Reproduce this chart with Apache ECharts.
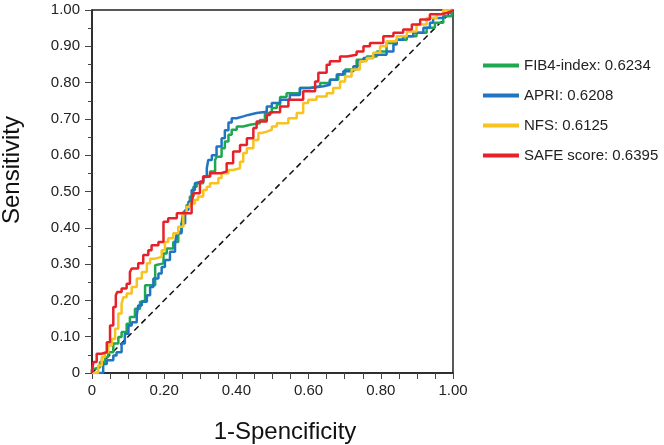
<!DOCTYPE html>
<html>
<head>
<meta charset="utf-8">
<script src="https://cdn.jsdelivr.net/npm/echarts@6/dist/echarts.min.js"></script>
<style>html,body{margin:0;padding:0;background:#fff}#c{width:664px;height:445px}</style>
</head>
<body>
<div id="c"></div>
<script>
const seriesNames = ['FIB4-index: 0.6234', 'APRI: 0.6208', 'NFS: 0.6125', 'SAFE score: 0.6395'];
const xTicks = [0, 0.2, 0.4, 0.6, 0.8, 1.0];
const yTicks = [0, 0.1, 0.2, 0.3, 0.4, 0.5, 0.6, 0.7, 0.8, 0.9, 1.0];
const reference = [[0, 0], [1, 1]];

const fib4 = [[0,0],[0.008,0.012],[0.022,0.016],[0.036,0.030],[0.045,0.044],[0.059,0.057],[0.073,0.081],[0.082,0.099],[0.096,0.113],[0.105,0.136],[0.119,0.154],[0.133,0.177],[0.138,0.196],[0.147,0.200],[0.161,0.242],[0.175,0.242],[0.175,0.297],[0.198,0.302],[0.207,0.329],[0.225,0.343],[0.239,0.361],[0.248,0.389],[0.253,0.412],[0.262,0.444],[0.271,0.463],[0.281,0.486],[0.290,0.513],[0.308,0.523],[0.327,0.541],[0.341,0.555],[0.345,0.587],[0.359,0.596],[0.368,0.619],[0.378,0.638],[0.387,0.656],[0.401,0.670],[0.419,0.679],[0.438,0.684],[0.465,0.688],[0.479,0.697],[0.498,0.716],[0.512,0.730],[0.521,0.740],[0.539,0.760],[0.576,0.771],[0.604,0.785],[0.632,0.790],[0.659,0.799],[0.682,0.808],[0.701,0.822],[0.733,0.836],[0.761,0.863],[0.789,0.872],[0.816,0.886],[0.844,0.909],[0.872,0.918],[0.899,0.928],[0.927,0.937],[0.950,0.951],[0.973,0.965],[0.996,0.983],[1,1]];

const apri = [[0,0],[0.031,0],[0.031,0.007],[0.041,0.025],[0.059,0.035],[0.068,0.048],[0.082,0.057],[0.091,0.081],[0.101,0.108],[0.110,0.131],[0.124,0.140],[0.128,0.159],[0.138,0.186],[0.152,0.196],[0.161,0.214],[0.170,0.237],[0.184,0.260],[0.193,0.274],[0.202,0.292],[0.216,0.311],[0.230,0.334],[0.235,0.357],[0.248,0.385],[0.258,0.412],[0.267,0.449],[0.276,0.472],[0.285,0.504],[0.290,0.523],[0.308,0.528],[0.318,0.540],[0.322,0.564],[0.332,0.587],[0.345,0.600],[0.359,0.624],[0.368,0.647],[0.378,0.669],[0.387,0.690],[0.401,0.702],[0.419,0.707],[0.433,0.711],[0.456,0.716],[0.484,0.720],[0.498,0.734],[0.521,0.744],[0.548,0.753],[0.576,0.766],[0.604,0.785],[0.641,0.790],[0.659,0.794],[0.678,0.808],[0.696,0.822],[0.724,0.831],[0.738,0.845],[0.752,0.859],[0.779,0.868],[0.816,0.877],[0.835,0.886],[0.844,0.905],[0.862,0.918],[0.890,0.928],[0.918,0.937],[0.936,0.951],[0.945,0.965],[0.973,0.978],[0.992,0.992],[1,1]];

const nfs = [[0,0],[0.017,0],[0.017,0.002],[0.027,0.021],[0.036,0.044],[0.045,0.057],[0.055,0.076],[0.064,0.094],[0.073,0.122],[0.082,0.164],[0.087,0.191],[0.096,0.209],[0.110,0.219],[0.124,0.237],[0.138,0.260],[0.152,0.278],[0.161,0.302],[0.175,0.315],[0.193,0.320],[0.202,0.338],[0.211,0.361],[0.225,0.371],[0.239,0.385],[0.253,0.403],[0.262,0.440],[0.271,0.458],[0.285,0.467],[0.294,0.477],[0.308,0.486],[0.318,0.504],[0.327,0.513],[0.350,0.523],[0.359,0.537],[0.378,0.550],[0.391,0.559],[0.410,0.564],[0.419,0.582],[0.429,0.606],[0.447,0.619],[0.461,0.642],[0.470,0.661],[0.484,0.665],[0.498,0.670],[0.512,0.679],[0.544,0.688],[0.567,0.702],[0.585,0.716],[0.599,0.744],[0.622,0.753],[0.650,0.762],[0.668,0.771],[0.687,0.785],[0.701,0.803],[0.719,0.817],[0.742,0.836],[0.761,0.859],[0.779,0.868],[0.798,0.882],[0.816,0.900],[0.844,0.914],[0.872,0.928],[0.899,0.941],[0.927,0.960],[0.955,0.978],[0.973,0.988],[1,1]];

const safe = [[0,0],[0.004,0.007],[0.013,0.030],[0.027,0.053],[0.041,0.057],[0.050,0.085],[0.059,0.131],[0.066,0.182],[0.070,0.214],[0.082,0.223],[0.096,0.233],[0.105,0.246],[0.110,0.278],[0.128,0.288],[0.142,0.302],[0.156,0.325],[0.165,0.338],[0.184,0.352],[0.198,0.361],[0.211,0.417],[0.235,0.426],[0.248,0.440],[0.276,0.440],[0.281,0.467],[0.299,0.495],[0.308,0.527],[0.327,0.541],[0.355,0.550],[0.373,0.555],[0.391,0.578],[0.410,0.610],[0.429,0.628],[0.447,0.647],[0.456,0.675],[0.484,0.693],[0.493,0.711],[0.521,0.718],[0.544,0.734],[0.585,0.753],[0.618,0.776],[0.627,0.803],[0.650,0.827],[0.659,0.849],[0.687,0.859],[0.706,0.872],[0.733,0.877],[0.752,0.886],[0.770,0.900],[0.807,0.909],[0.835,0.928],[0.862,0.937],[0.886,0.946],[0.909,0.960],[0.936,0.974],[0.964,0.988],[0.983,0.992],[0.996,0.997],[1,1]];

const curves = [fib4, apri, nfs, safe];
const colors = ['#1fa84f', '#1f75c2', '#f8c21f', '#e6212a'];

const FONT = '"Liberation Sans", Arial, Helvetica, sans-serif';
const chart = echarts.init(document.getElementById('c'), null, {renderer: 'canvas'});

function near(v, list) { return list.some(t => Math.abs(t - v) < 1e-6); }
function fmt(v) { return v === 0 ? '0' : v.toFixed(2); }

const series = [{
  type: 'line', data: reference, symbol: 'none', silent: true,
  lineStyle: {color: '#111', width: 1.5, type: [6, 4]}, z: 1
}];
curves.forEach((d, i) => {
  series.push({
    name: seriesNames[i], type: 'line', data: d, symbol: 'none', step: 'start',
    lineStyle: {color: colors[i], width: 2.5}, itemStyle: {color: colors[i]}, z: 2 + i
  });
});

chart.setOption({
  animation: false,
  backgroundColor: '#fff',
  grid: {left: 92, right: 211, top: 10, bottom: 72, show: true, borderColor: '#222', borderWidth: 1.5, containLabel: false},
  legend: {
    data: seriesNames, orient: 'vertical', left: 478, top: 52,
    icon: 'rect', itemWidth: 36, itemHeight: 4, itemGap: 13,
    textStyle: {fontFamily: FONT, fontSize: 15, color: '#222', lineHeight: 17}
  },
  xAxis: {
    type: 'value', min: 0, max: 1, interval: 0.1,
    axisLine: {lineStyle: {color: '#222', width: 1.5}},
    axisTick: {show: true, length: 6, lineStyle: {color: '#444'}},
    minorTick: {show: true, splitNumber: 2, length: 6, lineStyle: {color: '#444'}},
    splitLine: {show: false},
    axisLabel: {margin: 10, fontFamily: FONT, fontSize: 15, color: '#222',
      formatter: v => near(v, xTicks) ? fmt(v) : ''}
  },
  yAxis: {
    type: 'value', min: 0, max: 1, interval: 0.1,
    axisLine: {lineStyle: {color: '#222', width: 1.5}},
    axisTick: {show: true, length: 7, lineStyle: {color: '#444'}},
    minorTick: {show: true, splitNumber: 2, length: 4, lineStyle: {color: '#444'}},
    splitLine: {show: false},
    axisLabel: {margin: 12, fontFamily: FONT, fontSize: 15, color: '#222',
      formatter: v => near(v, yTicks) ? fmt(v) : ''}
  },
  graphic: [
    {type: 'text', x: 285, y: 432, style: {text: '1-Spencificity', font: '24px ' + FONT, fill: '#111', textAlign: 'center', textVerticalAlign: 'middle'}},
    {type: 'text', x: 12, y: 170, rotation: Math.PI / 2, style: {text: 'Sensitivity', font: '24px ' + FONT, fill: '#111', textAlign: 'center', textVerticalAlign: 'middle'}}
  ],
  series: series
});
</script>
</body>
</html>
